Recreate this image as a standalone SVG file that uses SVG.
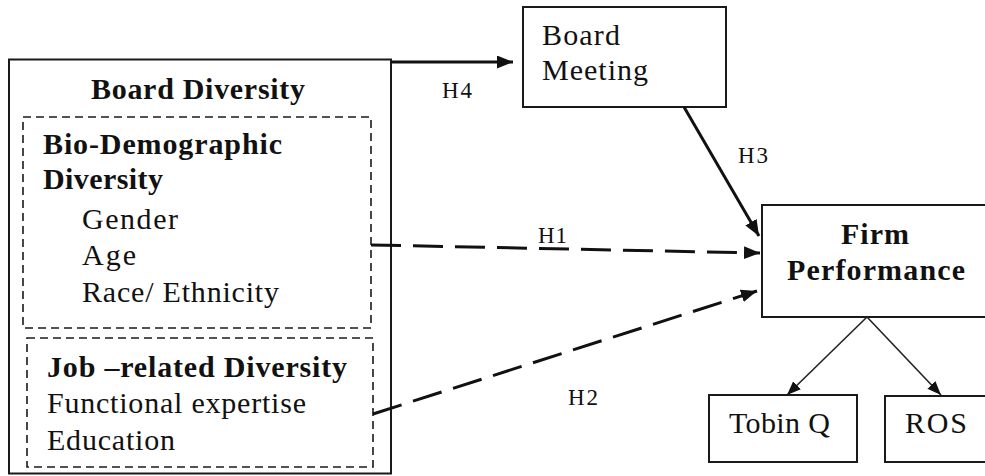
<svg xmlns="http://www.w3.org/2000/svg" width="985" height="476" viewBox="0 0 985 476">
  <style>
    .box { fill: #ffffff; stroke: #1a1a1a; stroke-width: 2; }
    .dbox { fill: none; stroke: #1a1a1a; stroke-width: 1.6; stroke-dasharray: 8 5; }
    .t { font-family: 'Liberation Serif', 'Times New Roman', serif; font-size: 30px; fill: #111111; }
    .b { font-weight: bold; }
    .h { font-family: 'Liberation Serif', 'Times New Roman', serif; font-size: 23px; fill: #111111; }
    .thick { stroke: #111111; stroke-width: 3; fill: none; }
    .dash { stroke: #111111; stroke-width: 3; fill: none; stroke-dasharray: 30 12; }
    .thin { stroke: #222222; stroke-width: 1.6; fill: none; }
  </style>
  <defs>
    <marker id="ah" markerUnits="userSpaceOnUse" markerWidth="18" markerHeight="14" refX="16" refY="6.5" orient="auto">
      <path d="M0,0 L16,6.5 L0,13 z" fill="#111111"/>
    </marker>
    <marker id="ahs" markerUnits="userSpaceOnUse" markerWidth="16" markerHeight="12" refX="14" refY="5.5" orient="auto">
      <path d="M0,0 L14,5.5 L0,11 z" fill="#111111"/>
    </marker>
  </defs>
  <rect width="985" height="476" fill="#ffffff"/>

  <g id="board-diversity">
    <rect class="box" x="9" y="59.5" width="382" height="414"/>
    <text class="t b" x="91" y="99" textLength="214" lengthAdjust="spacing">Board Diversity</text>
  </g>
  <g id="bio-demographic">
    <rect class="dbox" x="23" y="117" width="348" height="211"/>
    <text class="t b" x="43" y="154" textLength="239" lengthAdjust="spacing">Bio-Demographic</text>
    <text class="t b" x="43" y="189" textLength="120" lengthAdjust="spacing">Diversity</text>
    <text class="t" x="82" y="229" textLength="96" lengthAdjust="spacing">Gender</text>
    <text class="t" x="82" y="265" textLength="54" lengthAdjust="spacing">Age</text>
    <text class="t" x="82" y="302" textLength="197" lengthAdjust="spacing">Race/ Ethnicity</text>
  </g>
  <g id="job-related">
    <rect class="dbox" x="27" y="338" width="346" height="129"/>
    <text class="t b" x="47" y="377" textLength="300" lengthAdjust="spacing">Job –related Diversity</text>
    <text class="t" x="47" y="413" textLength="259" lengthAdjust="spacing">Functional expertise</text>
    <text class="t" x="47" y="450" textLength="128" lengthAdjust="spacing">Education</text>
  </g>
  <g id="board-meeting">
    <rect class="box" x="523" y="7" width="203" height="100"/>
    <text class="t" x="542" y="45" textLength="78" lengthAdjust="spacing">Board</text>
    <text class="t" x="542" y="80" textLength="106" lengthAdjust="spacing">Meeting</text>
  </g>
  <g id="firm-performance">
    <rect class="box" x="762" y="205" width="232" height="112"/>
    <text class="t b" x="841" y="244" textLength="68" lengthAdjust="spacing">Firm</text>
    <text class="t b" x="787" y="280" textLength="178" lengthAdjust="spacing">Performance</text>
  </g>
  <g id="tobin-q">
    <rect class="box" x="709" y="395" width="148" height="67"/>
    <text class="t" x="729" y="433" textLength="101" lengthAdjust="spacing">Tobin Q</text>
  </g>
  <g id="ros">
    <rect class="box" x="885" y="396" width="110" height="66"/>
    <text class="t" x="905" y="433" textLength="62" lengthAdjust="spacing">ROS</text>
  </g>

  <g id="connectors">
    <line class="thick" x1="391" y1="62" x2="513" y2="62" marker-end="url(#ah)"/>
    <line class="thick" x1="684" y1="107" x2="759" y2="236" marker-end="url(#ah)"/>
    <line class="dash" x1="371" y1="245" x2="760" y2="253" marker-end="url(#ah)"/>
    <line class="dash" x1="373" y1="414" x2="757" y2="291" marker-end="url(#ah)"/>
    <line class="thin" x1="867" y1="317" x2="787" y2="395" marker-end="url(#ahs)"/>
    <line class="thin" x1="867" y1="317" x2="941" y2="395" marker-end="url(#ahs)"/>
    <text class="h" x="442" y="98" textLength="30" lengthAdjust="spacing">H4</text>
    <text class="h" x="738" y="163" textLength="30" lengthAdjust="spacing">H3</text>
    <text class="h" x="538" y="243" textLength="29" lengthAdjust="spacing">H1</text>
    <text class="h" x="568" y="405" textLength="30" lengthAdjust="spacing">H2</text>
  </g>
</svg>
